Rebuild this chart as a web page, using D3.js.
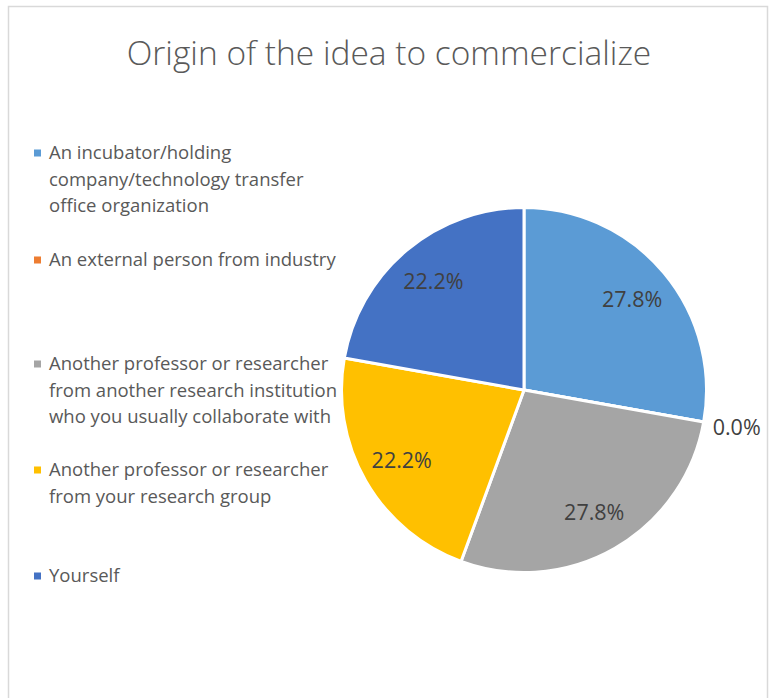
<!DOCTYPE html>
<html>
<head>
<meta charset="utf-8">
<script src="https://cdn.jsdelivr.net/npm/d3@7"></script>
<style>
  html, body { margin: 0; padding: 0; background: #fff; }
  svg { display: block; }
</style>
</head>
<body>
<div id="chart"></div>
<script>
// Survey answers: where the idea to commercialize came from
const categories = [
  "An incubator/holding company/technology transfer office organization",
  "An external person from industry",
  "Another professor or researcher from another research institution who you usually collaborate with",
  "Another professor or researcher from your research group",
  "Yourself"
];
const legendLines = [
  ["An incubator/holding", "company/technology transfer", "office organization"],
  ["An external person from industry"],
  ["Another professor or researcher", "from another research institution", "who you usually collaborate with"],
  ["Another professor or researcher", "from your research group"],
  ["Yourself"]
];
const percents = [27.8, 0.0, 27.8, 22.2, 22.2];
const colors = ["#5B9BD5", "#ED7D31", "#A5A5A5", "#FFC000", "#4472C4"];
const title = "Origin of the idea to commercialize";

const W = 776, H = 698;
const font = "'Open Sans', sans-serif";

const svg = d3.select("#chart").append("svg")
  .attr("width", W).attr("height", H);

// chart frame
svg.append("rect")
  .attr("x", 8.5).attr("y", 6.5)
  .attr("width", 759).attr("height", 720)
  .attr("fill", "#fff").attr("stroke", "#d9d9d9").attr("stroke-width", 1.5);

svg.append("text")
  .attr("x", 389).attr("y", 65)
  .attr("text-anchor", "middle")
  .attr("font-family", font).attr("font-weight", 300)
  .attr("font-size", 33.5).attr("fill", "#595959")
  .text(title);

// legend
const lineH = 26.3;
const itemTops = [153, 260, 364, 470, 576];
const legend = svg.append("g");
categories.forEach((c, i) => {
  const g = legend.append("g").attr("transform", `translate(0,${itemTops[i]})`);
  g.append("rect").attr("x", 34).attr("y", -3.5).attr("width", 7).attr("height", 7)
    .attr("fill", colors[i]);
  legendLines[i].forEach((ln, j) => {
    g.append("text")
      .attr("x", 49).attr("y", j * lineH)
      .attr("dy", "0.35em")
      .attr("font-family", font).attr("font-size", 18.5)
      .attr("fill", "#595959")
      .text(ln);
  });
});

// pie
const cx = 524, cy = 390, R = 182.5;
const pie = d3.pie().sort(null).value(d => d)(percents);
const arc = d3.arc().innerRadius(0).outerRadius(R);
const labelArc = d3.arc().innerRadius(141).outerRadius(141);
const outArc = d3.arc().innerRadius(216).outerRadius(216);

const pg = svg.append("g").attr("transform", `translate(${cx},${cy})`);
pg.selectAll("path.slice").data(pie).join("path")
  .attr("class", "slice")
  .attr("d", arc)
  .attr("fill", (d, i) => colors[i])
  .attr("stroke", "#fff").attr("stroke-width", 3).attr("stroke-linejoin", "round");

pg.selectAll("text.lbl").data(pie).join("text")
  .attr("class", "lbl")
  .attr("transform", d => {
    const p = (d.endAngle - d.startAngle) > 0 ? labelArc.centroid(d) : outArc.centroid(d);
    return `translate(${p[0]},${p[1]})`;
  })
  .attr("text-anchor", "middle").attr("dy", "0.35em")
  .attr("font-family", font).attr("font-size", 21.5)
  .attr("fill", "#404040")
  .text(d => d.data.toFixed(1) + "%");
</script>
</body>
</html>
